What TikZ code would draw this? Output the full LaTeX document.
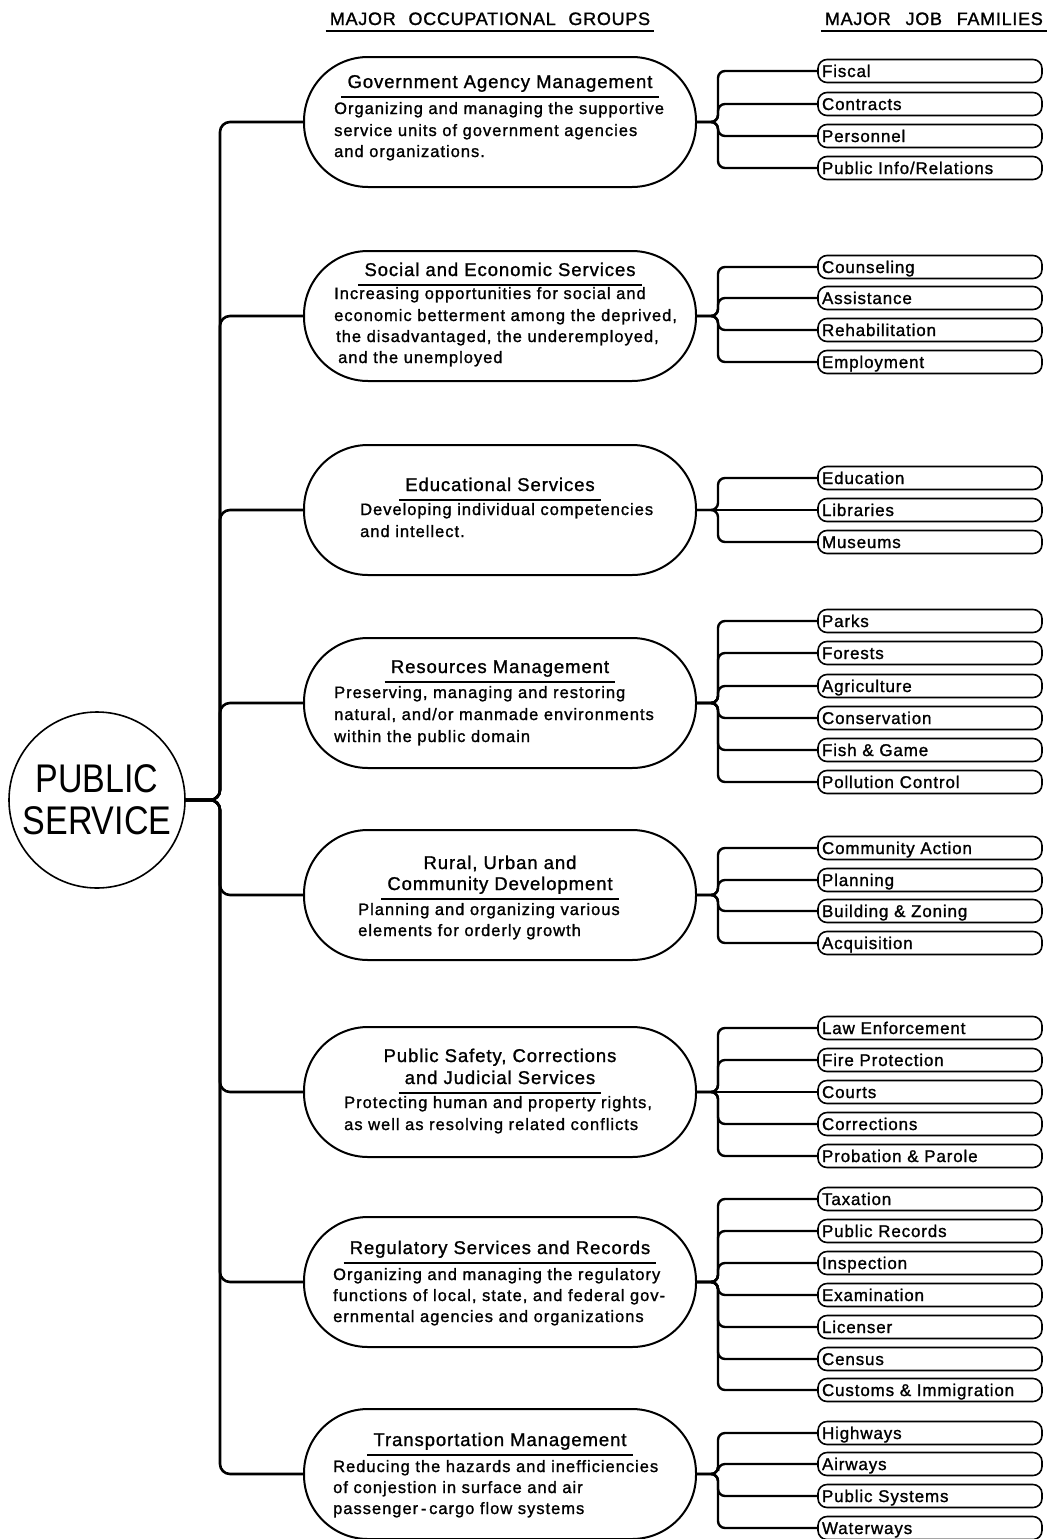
\documentclass[tikz,border=0pt]{standalone}
\usepackage{fontspec}
\setmainfont{Liberation Sans}
\newfontfamily\hdfont[LetterSpace=4,FakeBold=1.2]{Liberation Sans}
\newfontfamily\ttlfont[LetterSpace=5,FakeBold=1.2]{Liberation Sans}
\newfontfamily\dscfont[LetterSpace=6,FakeBold=1.2]{Liberation Sans}
\newfontfamily\jobfont[LetterSpace=5,FakeBold=1.2]{Liberation Sans}
\newfontfamily\bigfont[FakeStretch=0.85]{Liberation Sans}
\usetikzlibrary{calc}

% job families of one group: group node, stub height, list of y/name/text
\newcommand\jobset[3]{%
  \foreach \yy/\nm/\tx in {#3}{%
    \node[job] (\nm) at (930,\yy) {\tx};
    \ifdim\yy pt=#2pt
      \draw[branch] (#1.east) -- (\nm.west);
    \else
      \draw[branch] (#1.east) -- (718,#2) |- (\nm.west);
    \fi
  }%
}

\begin{document}
\begin{tikzpicture}[x=1pt,y=-1pt,
  hdr/.style={anchor=base, inner sep=0pt, font=\hdfont\fontsize{18}{21}\selectfont},
  ttl/.style={anchor=base, inner sep=0pt, font=\ttlfont\fontsize{18.5}{22}\selectfont},
  dsc/.style={anchor=base west, inner sep=0pt, font=\dscfont\fontsize{16.5}{20}\selectfont},
  job/.style={draw, line width=1.6pt, rounded corners=9pt, minimum height=23pt,
    text width=216pt, inner xsep=4pt, inner ysep=0pt, text height=12pt,
    text depth=0pt, align=left, font=\jobfont\fontsize{17}{20}\selectfont},
  grp/.style={draw, line width=2pt, rounded corners=64pt, minimum width=392pt,
    minimum height=130pt, inner sep=0pt},
  conn/.style={line width=2.6pt, rounded corners=10pt},
  branch/.style={line width=2.4pt, rounded corners=7pt},
  uline/.style={line width=1.8pt}]

\fill[white] (0,0) rectangle (1047,1539);
\useasboundingbox (0,0) rectangle (1047,1539);

% column headings
\node[hdr] (hgroups) at (490,25) {MAJOR\hspace{7pt} OCCUPATIONAL\hspace{7pt} GROUPS};
\draw[uline] ([xshift=-4pt,yshift=-6pt]hgroups.base west) -- ([xshift=4pt,yshift=-6pt]hgroups.base east);
\node[hdr, anchor=base east] (hfam) at (1043,25) {MAJOR\hspace{9pt} JOB\hspace{9pt} FAMILIES};
\draw[uline] ([xshift=-4pt,yshift=-6pt]hfam.base west) -- ([xshift=4pt,yshift=-6pt]hfam.base east);

% root
\node[draw, circle, line width=1.6pt, minimum size=176pt, inner sep=0pt, align=center,
  font=\bigfont\fontsize{40}{42}\selectfont] (ps) at (97,800) {PUBLIC\\SERVICE};

% occupational groups
\node[grp] (g1) at (500,122) {};
\node[grp] (g2) at (500,316) {};
\node[grp] (g3) at (500,510) {};
\node[grp] (g4) at (500,703) {};
\node[grp] (g5) at (500,895) {};
\node[grp] (g6) at (500,1092) {};
\node[grp] (g7) at (500,1282) {};
\node[grp] (g8) at (500,1474) {};

\foreach \g/\cy in {g1/122,g2/316,g3/510,g4/703,g5/895,g6/1092,g7/1282,g8/1474}
  \draw[conn] (ps.east) -- (220,800) |- (\g.west);

% group texts
\node[ttl] (t1) at (500,88) {Government Agency Management};
\draw[uline] ([xshift=-6pt,yshift=-9pt]t1.base west) -- ([xshift=6pt,yshift=-9pt]t1.base east);
\node[dsc] (d1a) at (334,114) {Organizing and managing the supportive};
\node[dsc] (d1b) at (334,136) {service units of government agencies};
\node[dsc] (d1c) at (334,157) {and organizations.};

\node[ttl] (t2) at (500,276) {Social and Economic Services};
\draw[uline] ([xshift=-6pt,yshift=-9pt]t2.base west) -- ([xshift=6pt,yshift=-9pt]t2.base east);
\node[dsc] (d2a) at (334,299) {Increasing opportunities for social and};
\node[dsc] (d2b) at (334,321) {economic betterment among the deprived,};
\node[dsc] (d2c) at (336,342) {the disadvantaged, the underemployed,};
\node[dsc] (d2d) at (338,363) {and the unemployed};

\node[ttl] (t3) at (500,491) {Educational Services};
\draw[uline] ([xshift=-6pt,yshift=-9pt]t3.base west) -- ([xshift=6pt,yshift=-9pt]t3.base east);
\node[dsc] (d3a) at (360,515) {Developing individual competencies};
\node[dsc] (d3b) at (360,537) {and intellect.};

\node[ttl] (t4) at (500,673) {Resources Management};
\draw[uline] ([xshift=-6pt,yshift=-9pt]t4.base west) -- ([xshift=6pt,yshift=-9pt]t4.base east);
\node[dsc] (d4a) at (334,698) {Preserving, managing and restoring};
\node[dsc] (d4b) at (334,720) {natural, and/or manmade environments};
\node[dsc] (d4c) at (334,742) {within the public domain};

\node[ttl] (t5a) at (500,869) {Rural, Urban and};
\node[ttl] (t5) at (500,890) {Community Development};
\draw[uline] ([xshift=-6pt,yshift=-9pt]t5.base west) -- ([xshift=6pt,yshift=-9pt]t5.base east);
\node[dsc] (d5a) at (358,915) {Planning and organizing various};
\node[dsc] (d5b) at (358,936) {elements for orderly growth};

\node[ttl] (t6a) at (500,1062) {Public Safety, Corrections};
\node[ttl] (t6) at (500,1084) {and Judicial Services};
\draw[uline] ([xshift=-6pt,yshift=-9pt]t6.base west) -- ([xshift=6pt,yshift=-9pt]t6.base east);
\node[dsc] (d6a) at (344,1108) {Protecting human and property rights,};
\node[dsc] (d6b) at (344,1130) {as well as resolving related conflicts};

\node[ttl] (t7) at (500,1254) {Regulatory Services and Records};
\draw[uline] ([xshift=-6pt,yshift=-9pt]t7.base west) -- ([xshift=6pt,yshift=-9pt]t7.base east);
\node[dsc] (d7a) at (333,1280) {Organizing and managing the regulatory};
\node[dsc] (d7b) at (333,1301) {functions of local, state, and federal gov-};
\node[dsc] (d7c) at (333,1322) {ernmental agencies and organizations};

\node[ttl] (t8) at (500,1446) {Transportation Management};
\draw[uline] ([xshift=-6pt,yshift=-9pt]t8.base west) -- ([xshift=6pt,yshift=-9pt]t8.base east);
\node[dsc] (d8a) at (333,1472) {Reducing the hazards and inefficiencies};
\node[dsc] (d8b) at (333,1493) {of conjestion in surface and air};
\node[dsc] (d8c) at (333,1514) {passenger\,-\,cargo flow systems};

% job families
\jobset{g1}{122}{71/fiscal/Fiscal, 104/contracts/Contracts, 136/personnel/Personnel,
  168/pubinfo/{Public Info/Relations}}
\jobset{g2}{316}{267/counsel/Counseling, 298/assist/Assistance, 330/rehab/Rehabilitation,
  362/employ/Employment}
\jobset{g3}{510}{478/educ/Education, 510/libr/Libraries, 542/museum/Museums}
\jobset{g4}{703}{621/parks/Parks, 653/forests/Forests, 686/agri/Agriculture,
  718/conserv/Conservation, 750/fish/Fish \& Game, 782/pollut/Pollution Control}
\jobset{g5}{895}{848/commact/Community Action, 880/plan/Planning,
  911/build/Building \& Zoning, 943/acq/Acquisition}
\jobset{g6}{1092}{1028/law/Law Enforcement, 1060/fire/Fire Protection, 1092/courts/Courts,
  1124/correct/Corrections, 1156/probat/Probation \& Parole}
\jobset{g7}{1282}{1199/tax/Taxation, 1231/records/Public Records, 1263/inspect/Inspection,
  1295/exam/Examination, 1327/licens/Licenser, 1359/census/Census,
  1390/customs/Customs \& Immigration}
\jobset{g8}{1474}{1433/highw/Highways, 1464/airw/Airways, 1496/pubsys/Public Systems,
  1528/waterw/Waterways}

\end{tikzpicture}
\end{document}
